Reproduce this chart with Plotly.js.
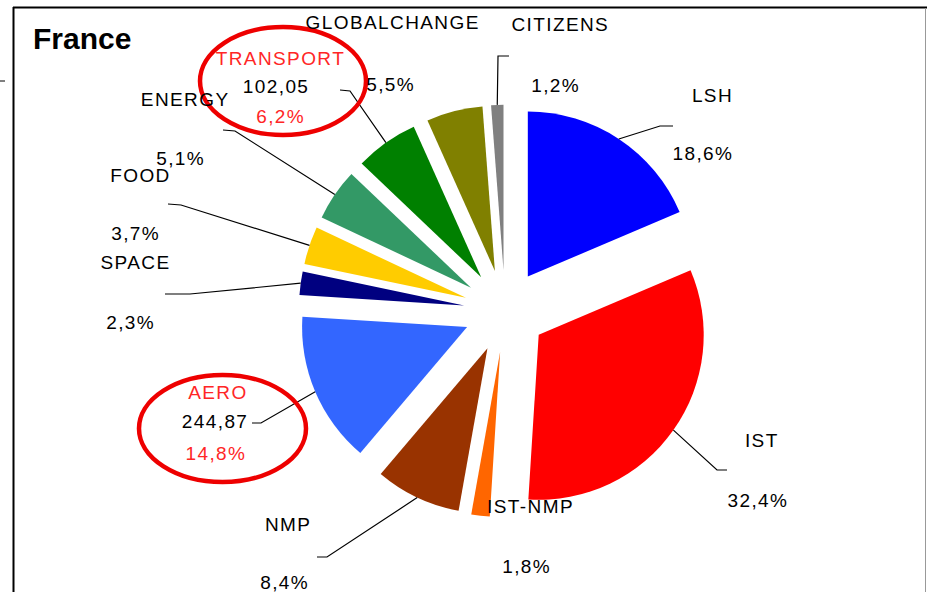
<!DOCTYPE html>
<html>
<head>
<meta charset="utf-8">
<script src="https://cdn.plot.ly/plotly-3.0.1.min.js"></script>
<style>
  html, body { margin: 0; padding: 0; background: #fff; }
  #chart { width: 927px; height: 592px; }
  #chart .annotation-text { letter-spacing: 1.4px; }
</style>
</head>
<body>
<div id="chart"></div>
<script>
// ---- data ----
const categories = ['LSH', 'IST', 'IST-NMP', 'NMP', 'AERO', 'SPACE', 'FOOD', 'ENERGY', 'TRANSPORT', 'GLOBALCHANGE', 'CITIZENS'];
const shares = [18.6, 32.4, 1.8, 8.4, 14.8, 2.3, 3.7, 5.1, 6.2, 5.5, 1.2];
const highlighted = ['TRANSPORT', 'AERO'];
const highlightAmounts = [102.05, 244.87];
const chartTitle = 'France';

// ---- styles ----
const colors = ['#0000FF', '#FF0000', '#FF6600', '#993300', '#3366FF', '#000080', '#FFCC00', '#339966', '#008000', '#808000', '#808080'];
const W = 927, H = 592;
const pull = 0.25;
const domX = [0.3223, 0.7673];
const domY = [0.1263, 0.8231];

// label placement (pixels): name centre, value centre, leader elbow & end
const labelPos = {
  'LSH':          {name: [712, 95],  pct: [703, 153], lead: [[660, 126], [673, 126]]},
  'IST':          {name: [762, 440], pct: [758, 500], lead: [[717, 470], [727, 470]]},
  'IST-NMP':      {name: [530, 506], pct: [526, 566], lead: null},
  'NMP':          {name: [288, 524], pct: [284, 582], lead: [[327, 557], [317, 557]]},
  'AERO':         {name: [218, 392], amt: [215, 421], pct: [216, 453], lead: [[261, 423], [252, 423]]},
  'SPACE':        {name: [135, 262], pct: [130, 322], lead: [[190, 294], [165, 294]]},
  'FOOD':         {name: [140, 175], pct: [135, 233], lead: [[181, 205], [168, 204]]},
  'ENERGY':       {name: [185, 100], pct: [180, 158], lead: [[235, 131], [223, 130]]},
  'TRANSPORT':    {name: [280, 58],  amt: [276, 87],  pct: [280, 117], lead: [[350, 91], [340, 90]]},
  'GLOBALCHANGE': {name: [392, 22],  pct: [390, 84],  lead: null},
  'CITIZENS':     {name: [560, 24],  pct: [555, 85],  lead: [[498, 56], [509, 56]]}
};

const px = x => x / W;
const py = y => 1 - y / H;
const fmt = (v, d) => v.toFixed(d).replace('.', ',');

// pie geometry as Plotly computes it
const boxW = W * (domX[1] - domX[0]);
const boxH = H * (domY[1] - domY[0]);
const R = Math.min(boxW, boxH) / 2 / (1 + pull);
const CX = W * (domX[0] + domX[1]) / 2;
const CY = H * (1 - domY[0]) - boxH / 2;
const total = shares.reduce((a, b) => a + b, 0);

const annotations = [];
const shapes = [];
const labelFont = {family: 'Liberation Sans, Arial, sans-serif', size: 19, color: '#000'};
const redFont = Object.assign({}, labelFont, {color: '#FF2626'});

let cum = 0;
categories.forEach((cat, i) => {
  const mid = (cum + shares[i] / 2) / total * 2 * Math.PI;
  cum += shares[i];
  const lp = labelPos[cat];
  const hi = highlighted.indexOf(cat);
  annotations.push({xref: 'paper', yref: 'paper', x: px(lp.name[0]), y: py(lp.name[1]),
    text: cat, showarrow: false, xanchor: 'center', yanchor: 'middle',
    font: hi >= 0 ? redFont : labelFont});
  annotations.push({xref: 'paper', yref: 'paper', x: px(lp.pct[0]), y: py(lp.pct[1]),
    text: fmt(shares[i], 1) + '%', showarrow: false, xanchor: 'center', yanchor: 'middle',
    font: hi >= 0 ? redFont : labelFont});
  if (hi >= 0) {
    annotations.push({xref: 'paper', yref: 'paper', x: px(lp.amt[0]), y: py(lp.amt[1]),
      text: fmt(highlightAmounts[hi], 2), showarrow: false, xanchor: 'center', yanchor: 'middle',
      font: labelFont});
  }
  if (lp.lead) {
    const rr = R * (1 + pull);
    const ax = CX + rr * Math.sin(mid);
    const ay = CY - rr * Math.cos(mid);
    const pts = [[ax, ay]].concat(lp.lead);
    const path = pts.map((p, k) => (k ? 'L' : 'M') + px(p[0]).toFixed(5) + ',' + py(p[1]).toFixed(5)).join(' ');
    shapes.push({type: 'path', xref: 'paper', yref: 'paper', path: path,
      line: {color: '#000', width: 1.2}});
  }
});

// highlight ellipses
const ellipses = [[200, 27, 366, 135], [139, 375, 306, 482]];
ellipses.forEach(e => shapes.push({type: 'circle', xref: 'paper', yref: 'paper',
  x0: px(e[0]), x1: px(e[2]), y0: py(e[3]), y1: py(e[1]),
  line: {color: '#EE0000', width: 4.5}}));

// frame
shapes.push({type: 'line', xref: 'paper', yref: 'paper', x0: px(13), x1: px(927), y0: py(7.5), y1: py(7.5), line: {color: '#000', width: 2}});
shapes.push({type: 'line', xref: 'paper', yref: 'paper', x0: px(13.5), x1: px(13.5), y0: py(7), y1: py(600), line: {color: '#000', width: 2}});
shapes.push({type: 'line', xref: 'paper', yref: 'paper', x0: px(925.5), x1: px(925.5), y0: py(8), y1: py(600), line: {color: '#999', width: 1}});
shapes.push({type: 'line', xref: 'paper', yref: 'paper', x0: 0, x1: px(5), y0: py(81), y1: py(81), line: {color: '#000', width: 1}});

const trace = {
  type: 'pie',
  labels: categories,
  values: shares,
  sort: false,
  direction: 'clockwise',
  rotation: 0,
  pull: pull,
  textinfo: 'none',
  hoverinfo: 'none',
  marker: {colors: colors, line: {width: 0}},
  domain: {x: domX, y: domY},
  showlegend: false
};

const layout = {
  width: W, height: H,
  margin: {l: 0, r: 0, t: 0, b: 0},
  paper_bgcolor: '#fff',
  showlegend: false,
  title: {text: '<b>' + chartTitle + '</b>', xref: 'paper', yref: 'paper',
    x: px(33), xanchor: 'left', y: py(38), yanchor: 'middle',
    font: {family: 'Liberation Sans, Arial, sans-serif', size: 30, color: '#000'}},
  annotations: annotations,
  shapes: shapes
};

Plotly.newPlot('chart', [trace], layout, {displayModeBar: false, staticPlot: true});
</script>
</body>
</html>
